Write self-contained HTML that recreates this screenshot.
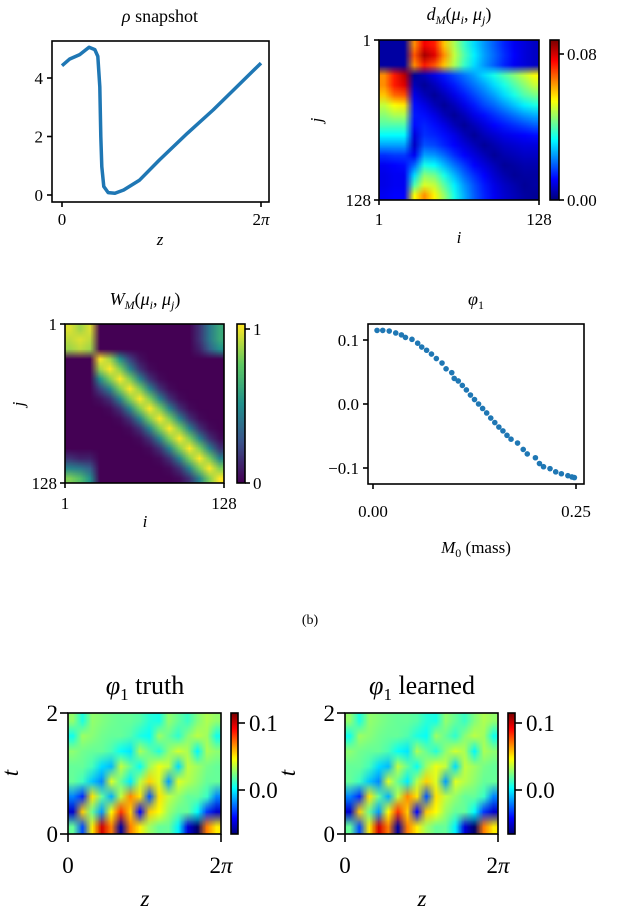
<!DOCTYPE html>
<html><head><meta charset="utf-8">
<style>
html,body{margin:0;padding:0;background:#fff;}
#root{position:relative;width:620px;height:912px;overflow:hidden;font-family:"Liberation Serif",serif;}
canvas{position:absolute;}
svg{position:absolute;left:0;top:0;}
</style></head>
<body>
<div id="root">
<canvas id="cD" width="16" height="16" style="left:379px;top:40px;width:160px;height:160px"></canvas>
<canvas id="cDb" width="1" height="64" style="left:550px;top:40px;width:9px;height:160px"></canvas>
<canvas id="cW" width="16" height="16" style="left:65px;top:324px;width:159px;height:159px"></canvas>
<canvas id="cWb" width="1" height="64" style="left:237px;top:324px;width:8px;height:159px"></canvas>
<canvas id="cT" width="16" height="8" style="left:68px;top:713px;width:153px;height:121px"></canvas>
<canvas id="cTb" width="1" height="64" style="left:231px;top:713px;width:7px;height:121px"></canvas>
<canvas id="cL" width="16" height="8" style="left:345px;top:713px;width:153px;height:121px"></canvas>
<canvas id="cLb" width="1" height="64" style="left:508px;top:713px;width:7px;height:121px"></canvas>
<svg id="svg" width="620" height="912" xmlns="http://www.w3.org/2000/svg"></svg>
</div>
<script>
// ---- data ----
const rhoZ = [0,.039,.089,.136,.165,.18,.19,.195,.2,.21,.232,.266,.31,.39,.49,.63,.76,.88,1.0];
const rhoV = [4.42,4.65,4.8,5.05,4.97,4.74,3.7,2.0,0.97,0.29,0.08,0.06,0.17,0.51,1.2,2.11,2.91,3.71,4.51];
const massM = [0.005,.012,.02,.028,.035,.04,.048,.055,.06,.066,.072,.078,.085,.09,.097,.1,.105,.11,.115,.12,.125,.13,.135,.14,.145,.15,.155,.16,.165,.17,.178,.185,.19,.2,.205,.21,.218,.225,.232,.24,.245,.248];
const phiM = [.115,.115,.114,.111,.108,.104,.101,.095,.089,.084,.078,.071,.064,.055,.049,.040,.036,.029,.022,.014,.007,0,-.007,-.014,-.022,-.029,-.036,-.042,-.049,-.055,-.061,-.071,-.078,-.084,-.093,-.098,-.101,-.106,-.109,-.112,-.114,-.115];
const dM = [
[.3,.3,.3,6.5,7.8,7.5,6,4.8,3.8,3,2.4,1.9,1.4,1,.8,.6],
[.3,.3,.3,7,8.5,8,6.5,5,4,3.2,2.5,2,1.5,1.1,.8,.6],
[.3,.3,.3,6.5,7.5,7,6,4.8,3.8,3,2.4,1.9,1.4,1,.8,.6],
[6.5,7.5,8.3,.2,.5,.9,1.3,1.7,2.1,2.5,3,3.5,4,4.5,5,5.5],
[6.5,7.5,8,.5,.2,.5,.9,1.3,1.7,2.1,2.5,3,3.5,4,4.5,5],
[6,6.8,7,.9,.5,.2,.5,.9,1.3,1.7,2.1,2.5,3,3.5,4,4.3],
[5,5.5,5.7,1.2,.9,.5,.2,.5,.9,1.3,1.7,2,2.4,2.8,3.2,3.5],
[4.5,4.8,4.8,1.3,1.2,.9,.5,.2,.5,.9,1.2,1.5,1.8,2.1,2.4,2.6],
[4,4,4,1.2,1.4,1.2,.9,.5,.2,.5,.8,1.1,1.3,1.5,1.7,1.9],
[3.3,3.3,3.3,.8,1.5,1.4,1.2,.9,.5,.2,.5,.7,.9,1,1.1,1.2],
[2.5,2.5,2.5,.6,1.8,1.7,1.4,1.1,.8,.5,.2,.4,.6,.7,.8,.8],
[1.5,1.6,1.6,1,2.5,2.4,2,1.5,1.1,.8,.5,.2,.4,.5,.6,.6],
[1,1.1,1.2,2,3.5,3.3,2.7,2.1,1.6,1.1,.8,.5,.2,.3,.4,.4],
[.9,1,1,3,4.5,4.3,3.5,2.7,2,1.5,1.1,.7,.4,.2,.3,.3],
[.9,1,1,4,5.2,5,4.1,3.2,2.4,1.8,1.3,.9,.6,.4,.2,.3],
[1,1.1,1.1,5.5,6.5,5.6,4.6,3.5,2.6,1.9,1.4,1,.7,.5,.3,.2]];
const wM = [
[.95,.85,.95,0,0,0,0,0,0,0,0,0,0,.15,.4,.6],
[.9,.95,.9,0,0,0,0,0,0,0,0,0,0,.15,.4,.6],
[.85,.9,.85,0,0,0,0,0,0,0,0,0,0,.1,.3,.5],
[0,0,0,1,.85,.5,.2,.05,0,0,0,0,0,0,0,0],
[0,0,0,.85,1,.8,.45,.15,.03,0,0,0,0,0,0,0],
[0,0,0,.5,.8,1,.8,.45,.15,.03,0,0,0,0,0,0],
[0,0,0,.2,.45,.8,1,.8,.45,.15,.03,0,0,0,0,0],
[0,0,0,.05,.15,.45,.8,1,.8,.45,.15,.03,0,0,0,0],
[0,0,0,0,.03,.15,.45,.8,1,.8,.45,.15,.03,0,0,0],
[0,0,0,0,0,.03,.15,.45,.8,1,.8,.45,.15,.03,0,0],
[0,0,0,0,0,0,.03,.15,.45,.8,1,.8,.45,.15,.03,0],
[0,0,0,0,0,0,0,.03,.15,.45,.8,1,.8,.45,.15,.03],
[0,0,0,0,0,0,0,0,.03,.15,.45,.8,1,.8,.45,.15],
[.15,.1,.1,0,0,0,0,0,0,.03,.15,.45,.8,1,.8,.45],
[.45,.4,.3,0,0,0,0,0,0,0,.03,.15,.45,.8,1,.8],
[.8,.7,.5,0,0,0,0,0,0,0,0,.03,.15,.45,.8,1]];
// phi1(z,t) in units of 0.01; rows t=2 (top) to t=0 (bottom)
const phiTruth = [
[2.8,.7,2.8,2.5,2.2,2,2,1.7,.9,.6,2.8,2,1.2,2.5,3.3,2.8],
[.5,3,2.6,2.2,2,2,1.6,.7,.3,3,2,1,2.6,3.5,3,.5],
[2.7,2.2,2,2,1.5,.3,-.2,3.2,2,.8,2.7,3.9,3.2,.1,3.2,2.7],
[2,2,1.4,-.4,-1,3.6,2,.4,3,4.4,3.6,-.4,3.6,3,2.3,2],
[2,1.3,-.8,-1.9,4.1,2,-.1,3.4,5.5,4.1,-1.5,4.1,3.4,2.7,2,2],
[-2,-3.6,5.2,2,-1.2,3.6,6.8,5.2,-2.8,5.2,3.6,2.8,2,2,1.2,-2],
[-5.2,5.6,2,-1.6,4.7,8.3,5.6,-4.3,5.6,4.7,2.9,2,2,.2,-3.4,-5.2],
[2,-3,5,10,7,-6,7,5,3,2,2,0,-5,-7,7,5]];
const phiLearned = [
[2.8,.7,2.8,2.5,2.2,2,2,1.7,.9,.6,2.8,2,1.2,2.5,3.3,2.8],
[.5,3,2.6,2.2,2,2,1.6,.7,.3,3,2,1,2.6,3.5,3,.5],
[2.7,2.2,2,2,1.5,.3,-.2,3.2,2,.8,2.7,3.9,3.2,.1,3.2,2.7],
[2,2,1.4,-.4,-1,3.6,2,.4,3,4.4,3.6,-.4,3.6,3,2.3,2],
[2,1.3,-.8,-1.9,4.1,2,-.1,3.4,5.5,4.1,-1.5,4.1,3.4,2.7,2,2],
[-2,-3.6,5.2,2,-1.2,3.6,6.8,5.2,-2.8,5.2,3.6,2.8,2,2,1.2,-2],
[-5.2,5.6,2,-1.6,4.7,8.3,5.6,-4.3,5.6,4.7,2.9,2,2,.2,-3.4,-5.2],
[2,-3,5,10,7,-6,7,5,3,2,2,0,-5,-7,7,5]];

// ---- colormaps ----
function cl(v){return Math.max(0,Math.min(1,v));}
function jet(x){return [cl(1.5-Math.abs(4*x-3)),cl(1.5-Math.abs(4*x-2)),cl(1.5-Math.abs(4*x-1))].map(v=>Math.round(v*255));}
const vir=[[68,1,84],[59,82,139],[33,145,140],[94,201,98],[253,231,37]];
function viridis(x){x=cl(x)*4;const i=Math.min(3,Math.floor(x)),f=x-i;return vir[i].map((c,k)=>Math.round(c+(vir[i+1][k]-c)*f));}
function drawGrid(id,grid,vmin,vmax,cmap){
  const c=document.getElementById(id),ctx=c.getContext('2d');
  const img=ctx.createImageData(grid[0].length,grid.length);
  grid.forEach((row,r)=>row.forEach((v,k)=>{const col=cmap((v-vmin)/(vmax-vmin));const o=(r*grid[0].length+k)*4;img.data[o]=col[0];img.data[o+1]=col[1];img.data[o+2]=col[2];img.data[o+3]=255;}));
  ctx.putImageData(img,0,0);
}
function drawBar(id,cmap){
  const c=document.getElementById(id),ctx=c.getContext('2d');const img=ctx.createImageData(1,64);
  for(let r=0;r<64;r++){const col=cmap(1-r/63);img.data[r*4]=col[0];img.data[r*4+1]=col[1];img.data[r*4+2]=col[2];img.data[r*4+3]=255;}
  ctx.putImageData(img,0,0);
}
drawGrid('cD',dM,0,8.83,jet);drawBar('cDb',jet);
drawGrid('cW',wM,0,1,viridis);drawBar('cWb',viridis);
drawGrid('cT',phiTruth,-6.6,11.5,jet);drawBar('cTb',jet);
drawGrid('cL',phiLearned,-6.6,11.5,jet);drawBar('cLb',jet);

// ---- svg ----
const NS='http://www.w3.org/2000/svg',svg=document.getElementById('svg');
function el(tag,attrs,parent){const e=document.createElementNS(NS,tag);for(const k in attrs)e.setAttribute(k,attrs[k]);(parent||svg).appendChild(e);return e;}
function txt(x,y,s,size,anchor,name,rot){const t=el('text',{x:x,y:y,'font-size':size,'text-anchor':anchor||'middle','font-family':'Liberation Serif, serif',fill:'#000'});t.innerHTML=s;if(rot)t.setAttribute('transform','rotate(-90 '+x+' '+y+')');


return t;}
function box(x,y,w,h,name){const r=el('rect',{x:x,y:y,width:w,height:h,fill:'none',stroke:'#000','stroke-width':1.6});

}
function tick(x1,y1,x2,y2){const l=el('line',{x1:x1,y1:y1,x2:x2,y2:y2,stroke:'#000','stroke-width':1.6});

}
const I='font-style="italic"';

// Panel 1: rho
const p1x=f=>62+f*199, p1y=v=>195-v*29.25;
box(52,41,217,161,'rho-axes');
[0,2,4].forEach(v=>{tick(47,p1y(v),52,p1y(v));txt(43,p1y(v)+6,String(v),17,'end','y-tick-label');});
tick(p1x(0),202,p1x(0),207);tick(p1x(1),202,p1x(1),207);
txt(p1x(0),225,'0',17,'middle','x-tick-label');txt(p1x(1),225,'2<tspan font-style="italic">π</tspan>',17,'middle','x-tick-label');
txt(160,245,'<tspan '+I+'>z</tspan>',17,'middle','x-axis-title');
txt(160,22,'<tspan font-style="italic">ρ</tspan> snapshot',18,'middle','rho-title');
const rl=el('polyline',{points:rhoZ.map((z,i)=>p1x(z)+','+p1y(rhoV[i])).join(' '),fill:'none',stroke:'#1f77b4','stroke-width':3.5,'stroke-linejoin':'round'});



// Panel 2: dM
box(379,40,160,160,'dm-axes');box(550,40,9,160,'dm-colorbar-frame');
txt(459,20,'<tspan '+I+'>d</tspan><tspan '+I+' font-size="12" dy="4">M</tspan><tspan dy="-4">(</tspan><tspan '+I+'>μ</tspan><tspan '+I+' font-size="12" dy="4">i</tspan><tspan dy="-4">, </tspan><tspan '+I+'>μ</tspan><tspan '+I+' font-size="12" dy="4">j</tspan><tspan dy="-4">)</tspan>',18,'middle','dm-title');
tick(374,40,379,40);tick(374,200,379,200);tick(379,200,379,205);tick(539,200,539,205);
txt(371,46,'1',17,'end','y-tick-label');txt(371,206,'128',17,'end','y-tick-label');
txt(379,225,'1',17,'middle','x-tick-label');txt(539,225,'128',17,'middle','x-tick-label');
txt(459,243,'<tspan '+I+'>i</tspan>',17,'middle','x-axis-title');
txt(322,120,'<tspan '+I+'>j</tspan>',17,'middle','y-axis-title',true);
tick(559,54,564,54);tick(559,200,564,200);
txt(567,60,'0.08',17,'start','colorbar-tick-label');txt(567,206,'0.00',17,'start','colorbar-tick-label');

// Panel 3: WM
box(65,324,159,159,'wm-axes');box(237,324,8,159,'wm-colorbar-frame');
txt(145,305,'<tspan '+I+'>W</tspan><tspan '+I+' font-size="12" dy="4">M</tspan><tspan dy="-4">(</tspan><tspan '+I+'>μ</tspan><tspan '+I+' font-size="12" dy="4">i</tspan><tspan dy="-4">, </tspan><tspan '+I+'>μ</tspan><tspan '+I+' font-size="12" dy="4">j</tspan><tspan dy="-4">)</tspan>',18,'middle','wm-title');
tick(60,324,65,324);tick(60,483,65,483);tick(65,483,65,488);tick(224,483,224,488);
txt(57,330,'1',17,'end','y-tick-label');txt(57,489,'128',17,'end','y-tick-label');
txt(65,509,'1',17,'middle','x-tick-label');txt(224,509,'128',17,'middle','x-tick-label');
txt(145,527,'<tspan '+I+'>i</tspan>',17,'middle','x-axis-title');
txt(24,404,'<tspan '+I+'>j</tspan>',17,'middle','y-axis-title',true);
tick(245,329,250,329);tick(245,483,250,483);
txt(253,335,'1',17,'start','colorbar-tick-label');txt(253,489,'0',17,'start','colorbar-tick-label');

// Panel 4: phi1 scatter
const p4x=m=>373+m/0.25*203, p4y=v=>404-v*640;
box(368,324,216,160,'phi-axes');
[[0.1,'0.1'],[0,'0.0'],[-0.1,'−0.1']].forEach(([v,s])=>{tick(363,p4y(v),368,p4y(v));txt(359,p4y(v)+6,s,17,'end','y-tick-label');});
tick(p4x(0),484,p4x(0),489);tick(p4x(0.25),484,p4x(0.25),489);
txt(p4x(0),517,'0.00',17,'middle','x-tick-label');txt(p4x(0.25),517,'0.25',17,'middle','x-tick-label');
txt(476,553,'<tspan '+I+'>M</tspan><tspan font-size="12" dy="4">0</tspan><tspan dy="-4"> (mass)</tspan>',17,'middle','x-axis-title');
txt(476,305,'<tspan '+I+'>φ</tspan><tspan font-size="12" dy="4">1</tspan>',18,'middle','phi-title');
massM.forEach((m,i)=>{const c=el('circle',{cx:p4x(m),cy:p4y(phiM[i]),r:2.8,fill:'#1f77b4'});

});

txt(310,624,'(b)',14,'middle','subfigure-label');

// Bottom panels
function bottom(ox,label,name){
  box(ox,713,153,121,name+'-axes');box(ox+163,713,7,121,name+'-colorbar-frame');
  txt(ox+77,694,'<tspan '+I+'>φ</tspan><tspan font-size="17" dy="6">1</tspan><tspan dy="-6"> '+label+'</tspan>',26,'middle',name+'-title');
  tick(ox-8,713,ox,713);tick(ox-8,834,ox,834);tick(ox,834,ox,842);tick(ox+153,834,ox+153,842);
  txt(ox-10,721,'2',23,'end','y-tick-label');txt(ox-10,842,'0',23,'end','y-tick-label');
  txt(ox,873,'0',23,'middle','x-tick-label');txt(ox+153,873,'2<tspan '+I+'>π</tspan>',23,'middle','x-tick-label');
  txt(ox+77,906,'<tspan '+I+'>z</tspan>',23,'middle','x-axis-title');
  txt(ox-50,773,'<tspan '+I+'>t</tspan>',23,'middle','y-axis-title',true);
  tick(ox+170,723,ox+177,723);tick(ox+170,790,ox+177,790);
  txt(ox+181,731,'0.1',23,'start','colorbar-tick-label');txt(ox+181,798,'0.0',23,'start','colorbar-tick-label');
}
bottom(68,'truth','phi-truth');
bottom(345,'learned','phi-learned');
</script>
</body></html>
